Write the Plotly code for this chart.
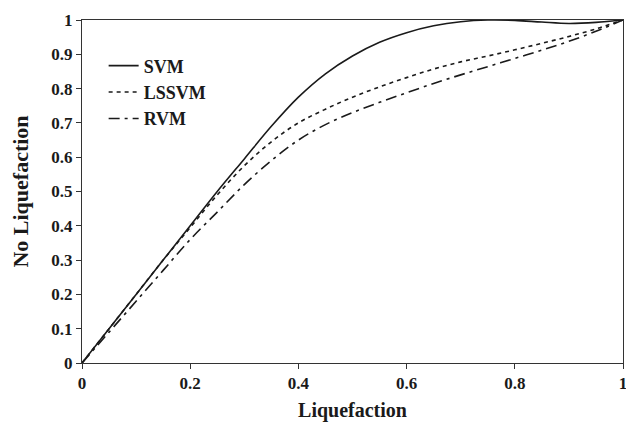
import plotly.graph_objects as go

x_vals = [0.0, 0.05, 0.1, 0.15, 0.2, 0.25, 0.3, 0.35, 0.4, 0.45, 0.5, 0.55, 0.6, 0.65, 0.7, 0.75, 0.8, 0.85, 0.9, 0.95, 1.0]
svm = [0.0, 0.10, 0.20, 0.30, 0.40, 0.50, 0.595, 0.69, 0.775, 0.843, 0.895, 0.935, 0.963, 0.983, 0.995, 1.0, 0.999, 0.994, 0.99, 0.993, 1.0]
lssvm = [0.0, 0.10, 0.20, 0.30, 0.395, 0.49, 0.575, 0.645, 0.70, 0.74, 0.775, 0.805, 0.832, 0.857, 0.878, 0.895, 0.913, 0.932, 0.952, 0.974, 1.0]
rvm = [0.0, 0.09, 0.18, 0.27, 0.36, 0.44, 0.52, 0.59, 0.65, 0.695, 0.73, 0.76, 0.788, 0.815, 0.84, 0.864, 0.888, 0.912, 0.938, 0.967, 1.0]

series = [("SVM", svm, "solid"), ("LSSVM", lssvm, "4px,4px"), ("RVM", rvm, "11px,5px,3px,5px")]

FONT = "Liberation Serif"
fig = go.Figure()
for name, vals, dash in series:
    fig.add_trace(go.Scatter(x=x_vals, y=vals, mode="lines", name=name,
                             line=dict(color="#1a1a1a", width=1.6, dash=dash, shape="spline", smoothing=1.0)))

fig.update_layout(
    width=626, height=427,
    margin=dict(l=82, r=3, t=20, b=64, autoexpand=False),
    paper_bgcolor="white", plot_bgcolor="white",
    font=dict(family=FONT, color="#1a1a1a"),
    showlegend=True,
    legend=dict(x=0.04, y=0.92, xanchor="left", yanchor="top", bgcolor="rgba(0,0,0,0)",
                font=dict(family=FONT, size=18, color="#1a1a1a", weight="bold"), itemwidth=30,
                tracegroupgap=2),
    xaxis=dict(range=[0, 1], dtick=0.2, tick0=0, showgrid=False, zeroline=False, automargin=False,
               showline=True, linecolor="#333", linewidth=1, mirror=True,
               ticks="outside", ticklen=5, tickcolor="#333", ticklabeloverflow="allow",
               tickfont=dict(family=FONT, size=17, weight="bold"),
               title=dict(text="<b>Liquefaction</b>", font=dict(family=FONT, size=20), standoff=10)),
    yaxis=dict(range=[0, 1], dtick=0.1, tick0=0, showgrid=False, zeroline=False, automargin=False,
               showline=True, linecolor="#333", linewidth=1, mirror=True,
               ticks="outside", ticklen=5, tickcolor="#333",
               tickfont=dict(family=FONT, size=17, weight="bold"),
               title=dict(text="<b>No Liquefaction</b>", font=dict(family=FONT, size=22), standoff=16)),
)
fig.write_html("out.html", config={"displayModeBar": False},
               post_script="document.body.style.margin='0';document.body.style.overflow='hidden';")
